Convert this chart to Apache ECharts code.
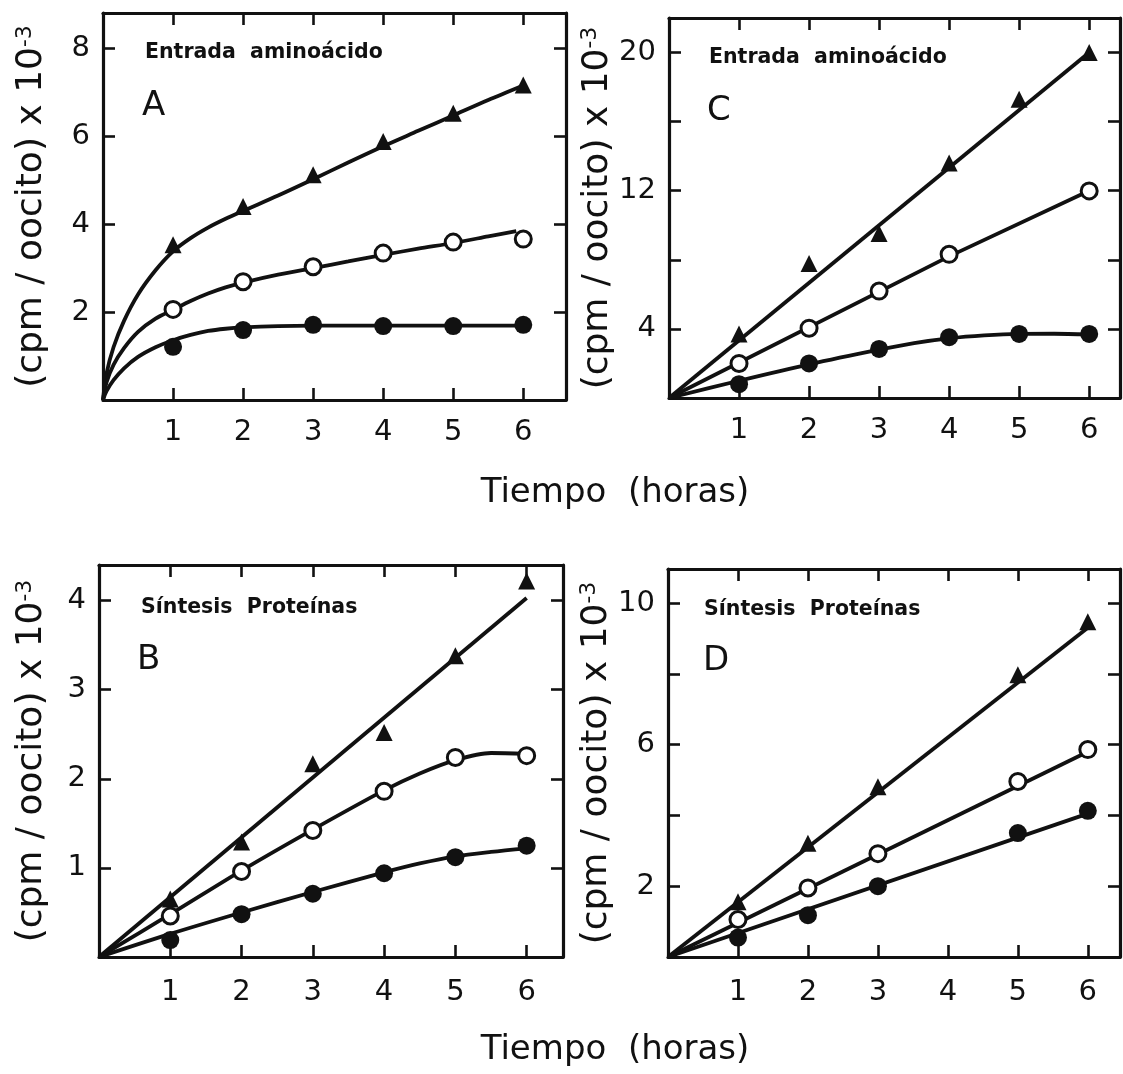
<!DOCTYPE html>
<html>
<head>
<meta charset="utf-8">
<script src="https://cdn.jsdelivr.net/npm/echarts@6/dist/echarts.min.js"></script>
<style>
html,body{margin:0;padding:0;background:#fff;}
#chart{width:1123px;height:1074px;}
</style>
</head>
<body>
<div id="chart"></div>
<script>
// ---------- DATA ----------
const hours = [1, 2, 3, 4, 5, 6];
const hoursD = [1, 2, 3, 5, 6];

// Panel A – Entrada aminoácido
const A_tri  = [3.53, 4.40, 5.12, 5.88, 6.52, 7.16];
const A_open = [2.06, 2.69, 3.03, 3.34, 3.59, 3.66];
const A_fill = [1.21, 1.59, 1.71, 1.68, 1.68, 1.71];
const A_curveTri  = [[0,0],[0.05,0.6],[0.15,1.2],[0.3,1.8],[0.5,2.4],[0.75,2.95],[1,3.38],[1.25,3.68],[1.5,3.92],[1.75,4.12],[2,4.3],[2.5,4.65],[3,5.02],[3.5,5.4],[4,5.77],[4.5,6.12],[5,6.47],[5.5,6.82],[6,7.15]];
const A_curveOpen = [[0,0],[0.05,0.4],[0.15,0.8],[0.3,1.18],[0.5,1.55],[0.75,1.85],[1,2.05],[1.25,2.25],[1.5,2.42],[1.75,2.56],[2,2.67],[2.5,2.85],[3,3.0],[3.5,3.15],[4,3.3],[4.5,3.44],[5,3.57],[5.5,3.72],[5.9,3.84]];
const A_curveFill = [[0,0],[0.05,0.2],[0.15,0.45],[0.3,0.72],[0.5,0.98],[0.75,1.2],[1,1.36],[1.25,1.48],[1.5,1.57],[1.75,1.62],[2,1.65],[2.5,1.68],[3,1.69],[4,1.69],[5,1.69],[6,1.69]];

// Panel C – Entrada aminoácido
const C_tri  = [3.71, 7.78, 9.53, 13.6, 17.3, 20.0];
const C_open = [2.0, 4.04, 6.19, 8.32, null, 11.99];
const C_fill = [0.8, 2.0, 2.84, 3.52, 3.71, 3.71];
const C_lineTri  = [[0,0],[6,20]];
const C_lineOpen = [[0,0],[4,8.2],[6,12]];
const C_curveFill = [[0,0],[1,1.0],[2,1.95],[3,2.8],[3.5,3.18],[4,3.45],[4.5,3.62],[5,3.71],[5.5,3.72],[6,3.68]];

// Panel B – Síntesis Proteínas
const B_tri  = [0.65, 1.29, 2.17, 2.52, 3.38, 4.22];
const B_open = [0.46, 0.96, 1.42, 1.86, 2.24, 2.26];
const B_fill = [0.19, 0.48, 0.71, 0.94, 1.12, 1.25];
const B_lineTri  = [[0,0],[6,4.03]];
const B_curveOpen = [[0,0],[1,0.48],[2,0.97],[3,1.43],[4,1.87],[4.5,2.06],[5,2.21],[5.5,2.29],[6,2.28]];
const B_curveFill = [[0,0],[1,0.26],[2,0.5],[3,0.73],[4,0.95],[4.5,1.05],[5,1.13],[5.5,1.18],[6,1.22]];

// Panel D – Síntesis Proteínas
const D_tri  = [1.56, 3.21, 4.81, 7.97, 9.47];
const D_open = [1.06, 1.95, 2.92, 4.96, 5.86];
const D_fill = [0.55, 1.18, 2.0, 3.5, 4.13];
const D_lineTri  = [[0,0],[6,9.3]];
const D_lineOpen = [[0,0],[6,5.8]];
const D_lineFill = [[0,0],[6,4.05]];

// Tick labels
const xTickLabels = [1, 2, 3, 4, 5, 6];
const A_yLabels = [2, 4, 6, 8];
const C_yLabels = [4, 12, 20];
const B_yLabels = [1, 2, 3, 4];
const D_yLabels = [2, 6, 10];

const yTitle = '(cpm / oocito) x 10{sup|-3}';
const xTitle = 'Tiempo  (horas)';
const panelTitles = ['Entrada  aminoácido', 'Entrada  aminoácido', 'Síntesis  Proteínas', 'Síntesis  Proteínas'];
const panelLetters = ['A', 'C', 'B', 'D'];

// ---------- LAYOUT ----------
const INK = '#111';
const FONT = 'DejaVu Sans';
const grids = [
  {left: 103, top: 13, width: 463, height: 387},   // A
  {left: 669, top: 18, width: 451, height: 380},   // C
  {left: 99,  top: 565, width: 464, height: 392},  // B
  {left: 668, top: 569, width: 452, height: 388}   // D
];
const xMax = [6.61, 6.44, 6.51, 6.46];
const yMax = [8.8, 22.0, 4.4, 10.96];
const yInt = [2, 4, 1, 2];
const yLab = [A_yLabels, C_yLabels, B_yLabels, D_yLabels];
const yGap = [53, 31, 49, 31];
const xMargin = [18, 18, 21, 21];

const lineStyle = {color: INK, width: 3.2};
const tick = {show: true, inside: true, length: 12, lineStyle: {color: INK, width: 2.6}};

const xAxes = [], yAxes = [];
grids.forEach((g, i) => {
  xAxes.push({
    type: 'value', gridIndex: i, min: 0, max: xMax[i], interval: 1, position: 'bottom',
    axisLine: {show: true, onZero: false, lineStyle},
    axisTick: tick, splitLine: {show: false},
    axisLabel: {show: true, margin: xMargin[i], color: INK, fontFamily: FONT, fontSize: 29,
      showMinLabel: true, showMaxLabel: true,
      formatter: v => xTickLabels.includes(Math.round(v*1000)/1000) ? String(v) : ''}
  });
  xAxes.push({
    type: 'value', gridIndex: i, min: 0, max: xMax[i], interval: 1, position: 'top',
    axisLine: {show: true, onZero: false, lineStyle},
    axisTick: tick, splitLine: {show: false}, axisLabel: {show: false}
  });
  yAxes.push({
    type: 'value', gridIndex: i, min: 0, max: yMax[i], interval: yInt[i], position: 'left',
    axisLine: {show: true, onZero: false, lineStyle},
    axisTick: tick, splitLine: {show: false},
    axisLabel: {show: true, margin: 13, color: INK, fontFamily: FONT, fontSize: 29,
      formatter: v => yLab[i].includes(Math.round(v*1000)/1000) ? String(v) : ''},
    name: yTitle, nameLocation: 'middle', nameGap: yGap[i], nameRotate: 90,
    nameTextStyle: {color: INK, fontFamily: FONT, fontSize: 36,
      rich: {sup: {fontSize: 22, fontFamily: FONT, color: INK, verticalAlign: 'top', lineHeight: 20}}}
  });
  yAxes.push({
    type: 'value', gridIndex: i, min: 0, max: yMax[i], interval: yInt[i], position: 'right',
    axisLine: {show: true, onZero: false, lineStyle},
    axisTick: tick, splitLine: {show: false}, axisLabel: {show: false}
  });
});

const pair = (xs, ys) => xs.map((x, k) => [x, ys[k]]).filter(p => p[1] !== null);

function curve(i, data, smooth) {
  return {type: 'line', xAxisIndex: 2*i, yAxisIndex: 2*i, data, smooth: smooth ? 0.3 : false,
    showSymbol: false, symbol: 'none', silent: true,
    lineStyle: {color: INK, width: 3.8}, z: 2};
}
function marks(i, data, kind) {
  const base = {type: 'scatter', xAxisIndex: 2*i, yAxisIndex: 2*i, data, z: 5, silent: true};
  if (kind === 'tri') return Object.assign(base, {symbol: 'triangle', symbolSize: 17, itemStyle: {color: INK, opacity: 1}});
  if (kind === 'open') return Object.assign(base, {symbol: 'circle', symbolSize: 16,
    itemStyle: {color: '#fff', borderColor: INK, borderWidth: 3, opacity: 1}});
  return Object.assign(base, {symbol: 'circle', symbolSize: 18, itemStyle: {color: INK, opacity: 1}});
}

const series = [
  // A
  curve(0, A_curveTri, true), curve(0, A_curveOpen, true), curve(0, A_curveFill, true),
  marks(0, pair(hours, A_tri), 'tri'), marks(0, pair(hours, A_open), 'open'), marks(0, pair(hours, A_fill), 'fill'),
  // C
  curve(1, C_lineTri, false), curve(1, C_lineOpen, false), curve(1, C_curveFill, true),
  marks(1, pair(hours, C_tri), 'tri'), marks(1, pair(hours, C_open), 'open'), marks(1, pair(hours, C_fill), 'fill'),
  // B
  curve(2, B_lineTri, false), curve(2, B_curveOpen, true), curve(2, B_curveFill, true),
  marks(2, pair(hours, B_tri), 'tri'), marks(2, pair(hours, B_open), 'open'), marks(2, pair(hours, B_fill), 'fill'),
  // D
  curve(3, D_lineTri, false), curve(3, D_lineOpen, false), curve(3, D_lineFill, false),
  marks(3, pair(hoursD, D_tri), 'tri'), marks(3, pair(hoursD, D_open), 'open'), marks(3, pair(hoursD, D_fill), 'fill')
];

const titlePos = [[145, 53], [709, 58], [141, 608], [704, 610]];
const letterPos = [[142, 106], [707, 111], [137, 660], [703, 661]];
const graphic = [];
titlePos.forEach((p, i) => {
  graphic.push({type: 'text', x: p[0], y: p[1], silent: true,
    style: {text: panelTitles[i], fill: INK, fontFamily: FONT, fontWeight: 'bold', fontSize: 20.5,
      align: 'left', verticalAlign: 'middle'}});
  graphic.push({type: 'text', x: letterPos[i][0], y: letterPos[i][1], silent: true,
    style: {text: panelLetters[i], fill: INK, fontFamily: FONT, fontSize: 34,
      align: 'left', verticalAlign: 'middle'}});
});
[493, 1050].forEach(y => graphic.push({type: 'text', x: 615, y, silent: true,
  style: {text: xTitle, fill: INK, fontFamily: FONT, fontSize: 34, align: 'center', verticalAlign: 'middle'}}));

const chart = echarts.init(document.getElementById('chart'), null, {renderer: 'canvas'});
chart.setOption({
  animation: false,
  backgroundColor: '#ffffff',
  grid: grids,
  xAxis: xAxes,
  yAxis: yAxes,
  series,
  graphic
});
</script>
</body>
</html>
